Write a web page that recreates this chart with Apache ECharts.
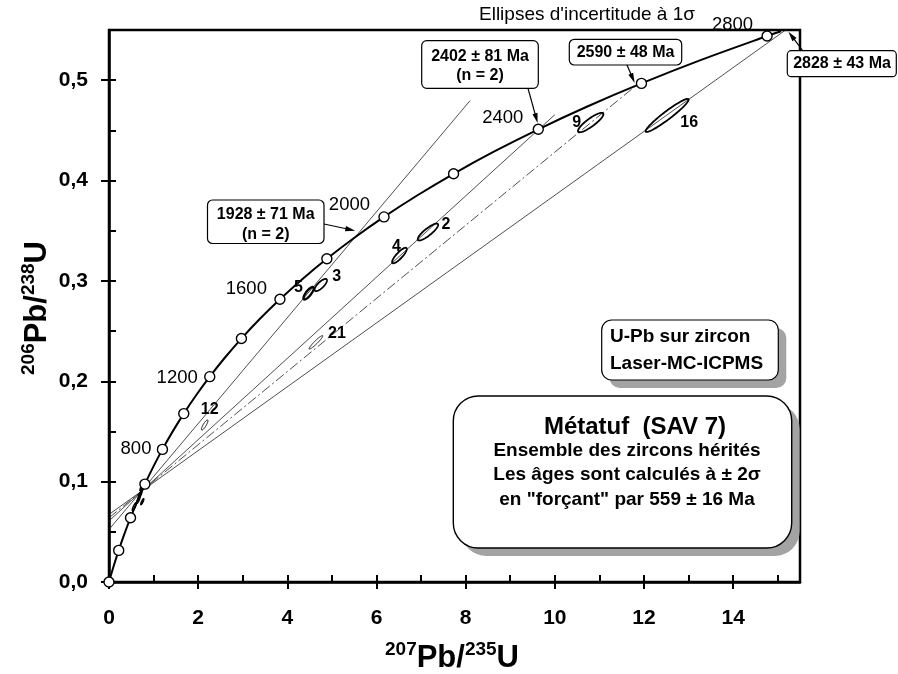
<!DOCTYPE html>
<html><head><meta charset="utf-8">
<script src="https://cdn.jsdelivr.net/npm/echarts@6/dist/echarts.min.js"></script>
<style>html,body{margin:0;padding:0;background:#fff}#c{width:898px;height:674px}</style>
</head><body><div id="c"></div>
<script>
// ---------------- DATA ----------------
const xTickValues = [0, 2, 4, 6, 8, 10, 12, 14];
const xMinorTickValues = [0, 1, 2, 3, 4, 5, 6, 7, 8, 9, 10, 11, 12, 13, 14, 15];
const yTickValues = [0, 0.1, 0.2, 0.3, 0.4, 0.5];
const yMinorTickValues = [0, 0.05, 0.1, 0.15, 0.2, 0.25, 0.3, 0.35, 0.4, 0.45, 0.5];

// Concordia (age in Ma, 207Pb/235U, 206Pb/238U)
const concordiaAge = [0, 100, 200, 300, 400, 500, 600, 700, 800, 900, 1000, 1100, 1200, 1300, 1400, 1500, 1600, 1700, 1800, 1900, 2000, 2100, 2200, 2300, 2400, 2500, 2600, 2700, 2800, 2820];
const concordiaX = [0, 0.1035, 0.2177, 0.3437, 0.4828, 0.6363, 0.8056, 0.9925, 1.1987, 1.4263, 1.6774, 1.9545, 2.2603, 2.5977, 2.9701, 3.3810, 3.8344, 4.3348, 4.8869, 5.4962, 6.1685, 6.9105, 7.7292, 8.6326, 9.6296, 10.7297, 11.9437, 13.2834, 14.7617, 15.0752];
const concordiaY = [0, 0.01563, 0.03151, 0.04764, 0.06402, 0.08065, 0.09754, 0.11470, 0.13213, 0.14983, 0.16780, 0.18606, 0.20460, 0.22344, 0.24256, 0.26199, 0.28172, 0.30175, 0.32210, 0.34277, 0.36377, 0.38509, 0.40674, 0.42873, 0.45107, 0.47376, 0.49680, 0.52020, 0.54396, 0.54876];
const markerAges = [0, 200, 400, 600, 800, 1000, 1200, 1400, 1600, 1800, 2000, 2200, 2400, 2600, 2800];
const labelAges = [800, 1200, 1600, 2000, 2400, 2800];

// Discordia lines (forced through lower intercept 559 ± 16 Ma)
const lowerIntercept = [0.734, 0.0906];
const discordiaLabels = ['1928 ± 71 Ma', '2402 ± 81 Ma', '2590 ± 48 Ma', '2828 ± 43 Ma'];
const discordiaStart = [[0, 0.0523], [0, 0.0609], [0, 0.0639], [0, 0.0673]];
const discordiaEnd = [[8.1, 0.4797], [10.0, 0.4656], [11.818, 0.4945], [15.2, 0.5507]];
const upperIntercepts = [[5.678, 0.3486], [9.651, 0.4515], [11.818, 0.4945], [15.20, 0.5507]];

// Analyses (1 sigma ellipses)
const ellipseIds = ['9', '16', '4', '2', '5', '3', '21', '12', '', '', '', '', ''];
const ellipseX   = [10.805, 12.52, 6.515, 7.154, 4.476, 4.75, 4.642, 2.146, 0.695, 0.657, 0.567, 0.747, 0.733];
const ellipseY   = [0.4578, 0.4649, 0.3253, 0.3487, 0.2877, 0.2959, 0.2388, 0.1564, 0.0867, 0.0817, 0.0750, 0.0800, 0.0944];
const ellipseSx  = [0.2853, 0.482, 0.1645, 0.2296, 0.1133, 0.1393, 0.1522, 0.0732, 0.045, 0.040, 0.045, 0.035, 0.040];
const ellipseSy  = [0.00971, 0.0165, 0.00775, 0.00842, 0.00617, 0.00607, 0.00672, 0.00504, 0.0040, 0.0035, 0.0040, 0.0030, 0.0035];
const ellipseRho = [0.866, 0.953, 0.842, 0.856, 0.795, 0.763, 0.949, 0.848, 0.85, 0.85, 0.85, 0.85, 0.85];

// ---------------- STYLE TABLES ----------------
const FONT = '"Liberation Sans", Arial, Helvetica, sans-serif';
const ageLabelOffsets = [[-1, 0], [-2, 1], [-3, -10], [-4, -12], [-5, -11], [-4, -11]];
const ellipseLabelOffsets = [[-14, 0], [22, 7], [-3, -9], [18, -7], [-10, -6], [16, -8], [21, -9], [5, -15]];
const ellipseWidths = [1.8, 1.8, 1.8, 1.8, 2.4, 1.8, 0.9, 1.0, 1.4, 1.4, 1.4, 1.4, 1.4];

// ---------------- CHART ----------------
const chart = echarts.init(document.getElementById('c'), null, { renderer: 'canvas' });

const idxOf = a => concordiaAge.indexOf(a);
const concordiaData = concordiaX.map((x, i) => [x, concordiaY[i]]);
const markerData = markerAges.map(a => [concordiaX[idxOf(a)], concordiaY[idxOf(a)]]);
const ageLabelData = labelAges.map((a, k) => ({
  value: [concordiaX[idxOf(a)], concordiaY[idxOf(a)]],
  label: { formatter: String(a), offset: ageLabelOffsets[k] }
}));
const ellipseData = ellipseIds.map((id, i) => [ellipseX[i], ellipseY[i], ellipseSx[i], ellipseSy[i], ellipseRho[i], i]);
const ellipseLabelData = [];
ellipseIds.forEach((id, i) => {
  if (id) ellipseLabelData.push({ value: [ellipseX[i], ellipseY[i]], label: { formatter: id, offset: ellipseLabelOffsets[i] } });
});

const XMIN = 0, XMAX = 15.5, YMIN = 0, YMAX = 0.55;
const axisCommon = { type: 'value', splitLine: { show: false } };

const discordiaSeries = discordiaStart.map((s, k) => ({
  type: 'line', data: [s, discordiaEnd[k]], symbol: 'none', silent: true, z: 2,
  lineStyle: { color: '#222', width: 0.8, type: k === 2 ? [10, 3, 2, 3] : 'solid' }
}));

const option = {
  animation: false,
  backgroundColor: '#fff',
  grid: { left: 109, right: 98, top: 30, bottom: 92, show: true, borderColor: '#000', borderWidth: 2.5, backgroundColor: 'transparent', outerBoundsMode: 'none' },
  xAxis: [
    Object.assign({}, axisCommon, {
      min: XMIN, max: XMAX, position: 'bottom',
      axisLine: { show: true, lineStyle: { color: '#000', width: 2.5 } },
      axisTick: { show: true, inside: true, length: 7, customValues: xMinorTickValues, lineStyle: { color: '#000', width: 2 } },
      axisLabel: { show: true, customValues: xTickValues, margin: 26, color: '#000', fontSize: 21, fontWeight: 'bold', fontFamily: FONT },
      minorTick: { show: false }
    }),
    Object.assign({}, axisCommon, {
      min: XMIN, max: XMAX, position: 'bottom',
      axisLine: { show: false },
      axisTick: { show: true, inside: false, length: 7, customValues: xTickValues, lineStyle: { color: '#000', width: 2 } },
      axisLabel: { show: false }
    })
  ],
  yAxis: [
    Object.assign({}, axisCommon, {
      min: YMIN, max: YMAX, position: 'left',
      axisLine: { show: true, lineStyle: { color: '#000', width: 2.5 } },
      axisTick: { show: true, inside: true, length: 7, customValues: yMinorTickValues, lineStyle: { color: '#000', width: 2 } },
      axisLabel: { show: true, customValues: yTickValues, margin: 21, color: '#000', fontSize: 21, fontWeight: 'bold', fontFamily: FONT,
        formatter: v => v.toFixed(1).replace('.', ',') }
    }),
    Object.assign({}, axisCommon, {
      min: YMIN, max: YMAX, position: 'left',
      axisLine: { show: false },
      axisTick: { show: true, inside: false, length: 8, customValues: yTickValues, lineStyle: { color: '#000', width: 2 } },
      axisLabel: { show: false }
    })
  ],
  series: discordiaSeries.concat([
    {
      type: 'custom', coordinateSystem: 'cartesian2d', data: ellipseData, z: 3, silent: true, clip: false,
      encode: { x: 0, y: 1 },
      renderItem: function (params, api) {
        const cx = api.value(0), cy = api.value(1), sx = api.value(2), sy = api.value(3), r = api.value(4), i = api.value(5);
        const pts = [];
        const q = Math.sqrt(1 - r * r);
        for (let k = 0; k < 90; k++) {
          const t = k / 90 * 2 * Math.PI;
          pts.push(api.coord([cx + sx * Math.cos(t), cy + sy * (r * Math.cos(t) + q * Math.sin(t))]));
        }
        return { type: 'polygon', shape: { points: pts }, style: { fill: 'none', stroke: '#000', lineWidth: ellipseWidths[i] } };
      }
    },
    {
      type: 'line', data: concordiaData, symbol: 'none', smooth: 0.3, silent: true, z: 4,
      lineStyle: { color: '#000', width: 2 }
    },
    {
      type: 'scatter', data: markerData, symbol: 'circle', symbolSize: 10, silent: true, z: 5,
      itemStyle: { color: '#fff', borderColor: '#000', borderWidth: 1.4, opacity: 1 }
    },
    {
      type: 'scatter', data: ageLabelData, symbolSize: 10, symbol: 'circle', silent: true, z: 6,
      itemStyle: { color: 'rgba(0,0,0,0)', opacity: 1 },
      label: { show: true, position: 'left', distance: 5, color: '#000', opacity: 1, fontSize: 18.5, fontFamily: FONT }
    },
    {
      type: 'scatter', data: ellipseLabelData, symbolSize: 1, silent: true, z: 6,
      itemStyle: { color: 'rgba(0,0,0,0)', opacity: 1 },
      label: { show: true, position: 'inside', color: '#000', opacity: 1, textBorderWidth: 0, fontSize: 16, fontWeight: 'bold', fontFamily: FONT }
    }
  ])
};
chart.setOption(option);

// ---------------- ANNOTATIONS ----------------
function txt(x, y, text, size, weight, align) {
  return { type: 'text', x: x, y: y, z: 100,
    style: { text: text, fontSize: size, fontWeight: weight || 'bold', fontFamily: FONT, fill: '#000',
      align: align || 'center', verticalAlign: 'middle' } };
}
function box(x, y, w, h, r, lw, shadow) {
  const out = [];
  if (shadow) {
    out.push({ type: 'rect', z: 88, shape: { x: x + shadow, y: y + shadow, width: w, height: h, r: r }, style: { fill: '#a3a3a3' } });
  }
  out.push({ type: 'rect', z: 90, shape: { x: x, y: y, width: w, height: h, r: r }, style: { fill: '#fff', stroke: '#000', lineWidth: lw } });
  return out;
}
function arrow(start, target, gap) {
  const dx = target[0] - start[0], dy = target[1] - start[1];
  const L = Math.hypot(dx, dy), ux = dx / L, uy = dy / L;
  const tip = [target[0] - ux * gap, target[1] - uy * gap];
  const hl = 10, hw = 2.6;
  const bx = tip[0] - ux * hl, by = tip[1] - uy * hl;
  return [
    { type: 'line', z: 95, shape: { x1: start[0], y1: start[1], x2: bx + ux * 2, y2: by + uy * 2 }, style: { stroke: '#000', lineWidth: 1.2 } },
    { type: 'polygon', z: 95, shape: { points: [tip, [bx - uy * hw, by + ux * hw], [bx + uy * hw, by - ux * hw]] }, style: { fill: '#000' } }
  ];
}
const P = p => chart.convertToPixel({ gridIndex: 0 }, p);
const ip = upperIntercepts.map(P);

let elements = [];
const add = e => { elements = elements.concat(e); };
// Boxes for intercept ages
add(box(207.5, 200, 116.5, 43.5, 5, 1.2));
add(txt(265.7, 215, discordiaLabels[0], 16));
add(txt(265.7, 235, '(n = 2)', 16));
add(box(421.7, 40.7, 116.6, 47.6, 5, 1.2));
add(txt(480, 56.7, discordiaLabels[1], 16));
add(txt(480, 75.5, '(n = 2)', 16));
add(box(569.3, 39.3, 112.4, 25.7, 5, 1.2));
add(txt(625.5, 52.5, discordiaLabels[2], 16));
add(box(787.3, 50.7, 109, 26, 4, 1.2));
add(txt(842, 64, discordiaLabels[3], 16));
// Arrows
add(arrow([324, 224], ip[0], 7));
add(arrow([528, 88.3], ip[1], 6));
add(arrow([627, 65], ip[2], 3));
add(arrow([803, 51], ip[3], 3));
// Method box
add(box(601.7, 320, 176.6, 60, 10, 1.2, 8));
add(txt(610, 337, 'U-Pb sur zircon', 19, 'bold', 'left'));
add(txt(610, 363.5, 'Laser-MC-ICPMS', 19, 'bold', 'left'));
// Main box
add(box(453.3, 396, 338.4, 152, 25, 1.4, 8));
add(txt(635, 427, 'Métatuf  (SAV 7)', 24));
add(txt(627, 451, 'Ensemble des zircons hérités', 19));
add(txt(627, 475, 'Les âges sont calculés à ± 2σ', 19));
add(txt(627, 499.5, 'en "forçant" par 559 ± 16 Ma', 19));
// Top note
add(txt(587, 15, "Ellipses d'incertitude à 1σ", 19, 'normal'));
// Axis titles
const titleRich = {
  s: { fontSize: 19, fontWeight: 'bold', fontFamily: FONT, fill: '#000', verticalAlign: 'top', lineHeight: 33 },
  b: { fontSize: 31, fontWeight: 'bold', fontFamily: FONT, fill: '#000', verticalAlign: 'bottom', lineHeight: 33 }
};
add({ type: 'text', x: 452, y: 657, z: 100,
  style: { text: '{s|207}{b|Pb/}{s|235}{b|U}', rich: titleRich, align: 'center', verticalAlign: 'middle' } });
add({ type: 'text', x: 36, y: 308, rotation: Math.PI / 2, z: 100,
  style: { text: '{s|206}{b|Pb/}{s|238}{b|U}', rich: titleRich, align: 'center', verticalAlign: 'middle' } });

chart.setOption({ graphic: { elements: elements } });
</script>
</body></html>
